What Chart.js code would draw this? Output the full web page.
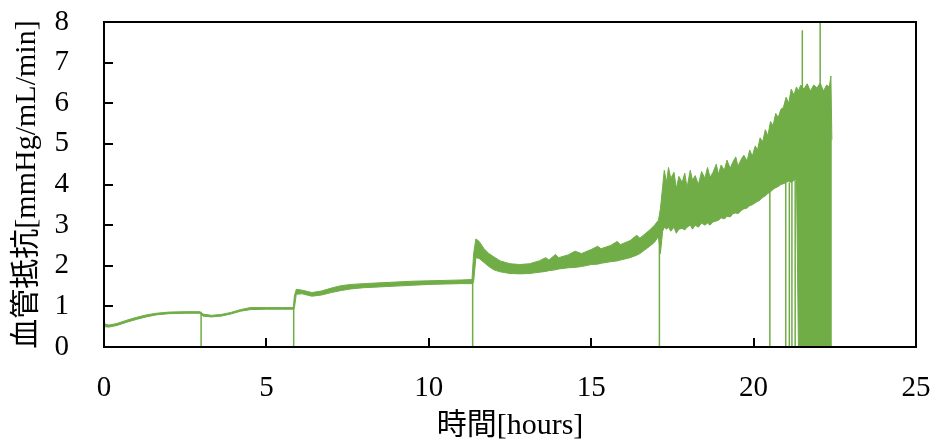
<!DOCTYPE html>
<html>
<head>
<meta charset="utf-8">
<script src="https://cdn.jsdelivr.net/npm/chart.js@4.4.1/dist/chart.umd.min.js"></script>
<style>
  html, body { margin: 0; padding: 0; background: #fff; }
  #wrap { width: 936px; height: 447px; }
</style>
</head>
<body>
<div id="wrap"><canvas id="resistChart"></canvas></div>
<script>
// band of the noisy trace: time [h], upper edge, lower edge
const bandHours = [
  0.02, 0.15, 0.4, 0.7, 1.0, 1.3, 1.6, 2.0, 2.5, 2.95,
  3.05, 3.3, 3.6, 3.9, 4.2, 4.5, 5.0, 5.5, 5.83,
  5.86, 5.92, 6.1, 6.4, 6.7, 7.0, 7.3, 7.6, 8.0, 8.5, 9.0, 9.5, 10.0, 10.5, 11.0, 11.33,
  11.38, 11.45, 11.55, 11.7, 11.85, 12.0, 12.2, 12.5, 12.8, 13.1, 13.4, 13.6, 13.7, 13.9, 14.0, 14.3, 14.5, 14.7,
  15.0, 15.2, 15.3, 15.6, 15.8, 15.9, 16.2, 16.4, 16.5, 16.8, 16.95, 17.07,
  17.13, 17.20, 17.25, 17.32, 17.38, 17.45, 17.55, 17.62, 17.70, 17.80, 17.88, 17.95,
  18.05, 18.12, 18.20, 18.30, 18.40, 18.50, 18.58, 18.66, 18.75, 18.85, 18.92,
  19.00, 19.10, 19.18, 19.28, 19.36, 19.45, 19.52, 19.62, 19.70, 19.80, 19.88, 19.96,
  20.05, 20.12, 20.20, 20.28, 20.36, 20.44, 20.52, 20.60, 20.68, 20.76, 20.84, 20.92,
  21.00, 21.08, 21.16, 21.24, 21.32, 21.38, 21.45, 21.55, 21.65, 21.75, 21.85,
  21.95, 22.05, 22.15, 22.25, 22.33, 22.38, 22.41
];
const bandHigh = [
  0.57, 0.54, 0.58, 0.66, 0.73, 0.79, 0.83, 0.86, 0.87, 0.87,
  0.81, 0.78, 0.80, 0.85, 0.92, 0.97, 0.97, 0.97, 0.97,
  1.25, 1.42, 1.40, 1.34, 1.38, 1.45, 1.51, 1.54, 1.56, 1.58, 1.60, 1.62, 1.63, 1.64, 1.65, 1.66,
  2.30, 2.66, 2.60, 2.42, 2.30, 2.22, 2.12, 2.05, 2.03, 2.05, 2.12, 2.20, 2.14, 2.28, 2.20, 2.27, 2.36, 2.30,
  2.40, 2.48, 2.42, 2.50, 2.60, 2.52, 2.62, 2.75, 2.68, 2.88, 3.00, 3.12,
  3.40, 3.95, 4.35, 4.05, 4.42, 4.15, 4.30, 3.90, 4.20, 4.05, 4.28, 3.92,
  4.35, 4.10, 4.22, 4.00, 4.32, 4.15, 4.42, 4.18, 4.30, 4.50, 4.25,
  4.48, 4.35, 4.60, 4.40, 4.55, 4.68, 4.45, 4.62, 4.72, 4.58, 4.85, 4.70,
  4.95, 4.85, 5.15, 5.05, 5.35, 5.20, 5.55, 5.45, 5.75, 5.65, 5.85, 5.90,
  6.15, 6.00, 6.35, 6.20, 6.40, 6.30, 6.45, 6.35, 6.48, 6.30, 6.45,
  6.38, 6.50, 6.30, 6.45, 6.40, 6.67, 5.10
];
const bandLow = [
  0.50, 0.49, 0.53, 0.61, 0.68, 0.74, 0.79, 0.82, 0.83, 0.83,
  0.76, 0.74, 0.76, 0.81, 0.88, 0.92, 0.93, 0.93, 0.93,
  0.95, 1.30, 1.31, 1.25, 1.28, 1.34, 1.39, 1.43, 1.46, 1.48, 1.50, 1.52, 1.54, 1.55, 1.56, 1.56,
  1.60, 2.20, 2.18, 2.08, 1.98, 1.90, 1.85, 1.81, 1.80, 1.81, 1.84, 1.86, 1.88, 1.90, 1.92, 1.95, 1.96, 1.98,
  2.03, 2.04, 2.06, 2.10, 2.12, 2.14, 2.20, 2.26, 2.30, 2.48, 2.58, 2.72,
  2.30, 2.85, 2.95, 2.90, 2.95, 2.85, 2.95, 2.80, 2.90, 2.92, 2.88, 2.95,
  3.00, 2.90, 3.00, 2.95, 3.05, 3.00, 3.05, 3.00, 3.08, 3.10, 3.12,
  3.18, 3.15, 3.22, 3.20, 3.28, 3.30, 3.28, 3.36, 3.40, 3.42, 3.48, 3.50,
  3.55, 3.58, 3.62, 3.68, 3.72, 3.78, 3.82, 3.88, 3.92, 3.95, 4.00, 4.02,
  4.05, 4.08, 4.05, 4.10, 4.12, 0, 0, 0, 0, 0, 0,
  0, 0, 0, 0, 0, 0, 0
];
// single vertical excursions (from 0 up to the value)
const spikeHours = [0.0, 2.99, 5.84, 11.35, 17.10, 20.50, 20.99, 21.10, 21.18, 21.28, 21.50, 22.05];
const spikeTop   = [1.05, 0.87, 0.97, 1.62, 2.90, 3.85, 4.05, 4.05, 4.10, 4.10, 7.80, 8.50];

const green = '#70ad47';
const fontFamily = "'Liberation Serif', 'Times New Roman', 'Noto Sans CJK JP', serif";

const spikeData = [];
spikeHours.forEach((t, i) => {
  spikeData.push({ x: t, y: 0 }, { x: t, y: spikeTop[i] }, { x: t, y: null });
});

// frame + inward tick marks like the spreadsheet original
const frameTicks = {
  id: 'frameTicks',
  afterDatasetsDraw(chart) {
    const { ctx, chartArea: a, scales: { x, y } } = chart;
    ctx.save();
    ctx.strokeStyle = '#000';
    ctx.lineWidth = 2;
    ctx.strokeRect(a.left, a.top, a.right - a.left, a.bottom - a.top);
    ctx.beginPath();
    x.ticks.forEach(t => {
      if (t.value <= x.min || t.value >= x.max) return;
      const px = Math.round(x.getPixelForValue(t.value));
      ctx.moveTo(px, a.bottom);
      ctx.lineTo(px, a.bottom - 9);
    });
    y.ticks.forEach(t => {
      if (t.value <= y.min || t.value >= y.max) return;
      const py = Math.round(y.getPixelForValue(t.value));
      ctx.moveTo(a.left, py);
      ctx.lineTo(a.left + 9, py);
    });
    ctx.stroke();
    ctx.restore();
  }
};

new Chart(document.getElementById('resistChart'), {
  type: 'line',
  data: {
    datasets: [
      {
        data: bandHours.map((t, i) => ({ x: t, y: bandHigh[i] })),
        borderColor: green, backgroundColor: green, borderWidth: 1,
        pointRadius: 0, fill: '+1', tension: 0
      },
      {
        data: bandHours.map((t, i) => ({ x: t, y: bandLow[i] })),
        borderColor: green, borderWidth: 1, pointRadius: 0, fill: false, tension: 0
      },
      {
        data: spikeData,
        borderColor: green, borderWidth: 1.5, pointRadius: 0, fill: false, spanGaps: false
      }
    ]
  },
  options: {
    responsive: true,
    maintainAspectRatio: false,
    animation: false,
    layout: { padding: { top: 22, right: 20, left: 0, bottom: 0 } },
    plugins: { legend: { display: false }, tooltip: { enabled: false } },
    scales: {
      x: {
        type: 'linear', min: 0, max: 25,
        grid: { display: false }, border: { display: false },
        ticks: { stepSize: 5, color: '#000', padding: 16, font: { family: fontFamily, size: 29 } },
        title: {
          display: true, text: '時間[hours]', color: '#000',
          padding: { top: 0, bottom: 3 }, font: { family: fontFamily, size: 30 }
        },
        afterFit: s => { s.height = 100; s.paddingLeft = 0; s.paddingRight = 0; }
      },
      y: {
        min: 0, max: 8,
        grid: { display: false }, border: { display: false },
        ticks: { stepSize: 1, color: '#000', padding: 27, font: { family: fontFamily, size: 29 } },
        title: {
          display: true, text: '血管抵抗[mmHg/mL/min]', color: '#000',
          padding: { top: 9, bottom: 0 }, font: { family: fontFamily, size: 30 }
        },
        afterFit: s => { s.width = 104; s.paddingTop = 0; s.paddingBottom = 0; }
      }
    }
  },
  plugins: [frameTicks]
});
</script>
</body>
</html>
